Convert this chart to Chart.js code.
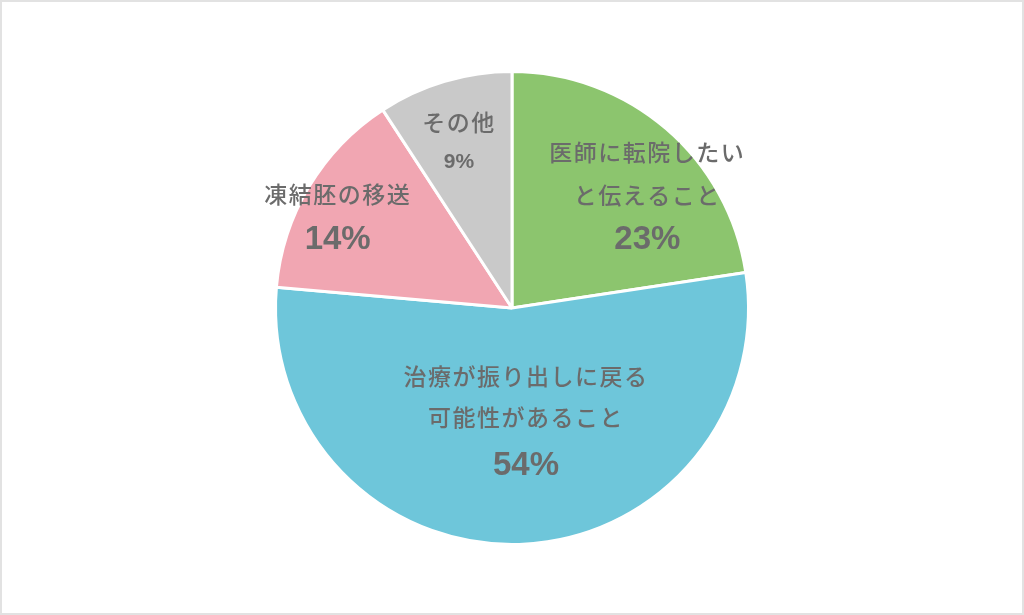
<!DOCTYPE html>
<html>
<head>
<meta charset="utf-8">
<script src="https://cdn.jsdelivr.net/npm/chart.js@4"></script>
<style>
  html, body { margin: 0; padding: 0; background: #fff; }
  #wrap {
    position: relative; width: 1024px; height: 615px; box-sizing: border-box;
    border: 2px solid #e2e2e2; background: #fff;
  }
  canvas { display: block; }
</style>
</head>
<body>
<div id="wrap"><canvas id="chart" width="1020" height="611"></canvas></div>
<script>
// ====== DATA ======
const categories = ["医師に転院したいと伝えること", "治療が振り出しに戻る可能性があること", "凍結胚の移送", "その他"];
const labelLines = [
  ["医師に転院したい", "と伝えること"],
  ["治療が振り出しに戻る", "可能性があること"],
  ["凍結胚の移送"],
  ["その他"]
];
const shares = [22.6, 53.8, 14.4, 9.2];

// ====== STYLE ======
const sliceColors = ["#8cc56e", "#6ec6da", "#f1a6b2", "#c9c9c9"];
const textColor = "#6b6b6b";
// label anchor: angle (deg, clockwise from top), distance as fraction of radius, line offsets
const labelPos = [
  { deg: 50.1, frac: 0.746, dy: [-42.5, 0, 45.5], pct: 33 },
  { deg: 172.7, frac: 0.466, dy: [-41, 0, 49], pct: 33 },
  { deg: 297.5, frac: 0.831, dy: [-22.5, 22.5], pct: 33 },
  { deg: 342.3, frac: 0.738, dy: [-19.5, 20], pct: 21 }
];

const sliceLabels = {
  id: "sliceLabels",
  afterDatasetsDraw(chart) {
    const ctx = chart.ctx;
    const arcs = chart.getDatasetMeta(0).data;
    ctx.save();
    ctx.fillStyle = textColor;
    ctx.textAlign = "center";
    ctx.textBaseline = "middle";
    arcs.forEach((arc, i) => {
      const p = labelPos[i];
      const a = (p.deg - 90) * Math.PI / 180;
      const cx = arc.x + Math.cos(a) * arc.outerRadius * p.frac;
      const cy = arc.y + Math.sin(a) * arc.outerRadius * p.frac;
      const lines = labelLines[i];
      lines.forEach((t, j) => {
        ctx.font = "500 23px 'Noto Sans CJK JP'";
        ctx.letterSpacing = "1.5px";
        ctx.fillText(t, cx, cy + p.dy[j]);
      });
      ctx.font = `bold ${p.pct}px 'Liberation Sans', Arial`;
      ctx.letterSpacing = "0px";
      ctx.fillText(Math.round(shares[i]) + "%", cx, cy + p.dy[lines.length]);
    });
    ctx.restore();
  }
};

new Chart(document.getElementById("chart"), {
  type: "pie",
  data: {
    labels: categories,
    datasets: [{
      data: shares,
      backgroundColor: sliceColors,
      borderColor: "#ffffff",
      borderWidth: 3,
      hoverOffset: 0
    }]
  },
  options: {
    responsive: false,
    animation: false,
    events: [],
    layout: { padding: { top: 68, bottom: 67, left: 0, right: 0 } },
    plugins: {
      legend: { display: false },
      tooltip: { enabled: false }
    }
  },
  plugins: [sliceLabels]
});
</script>
</body>
</html>
